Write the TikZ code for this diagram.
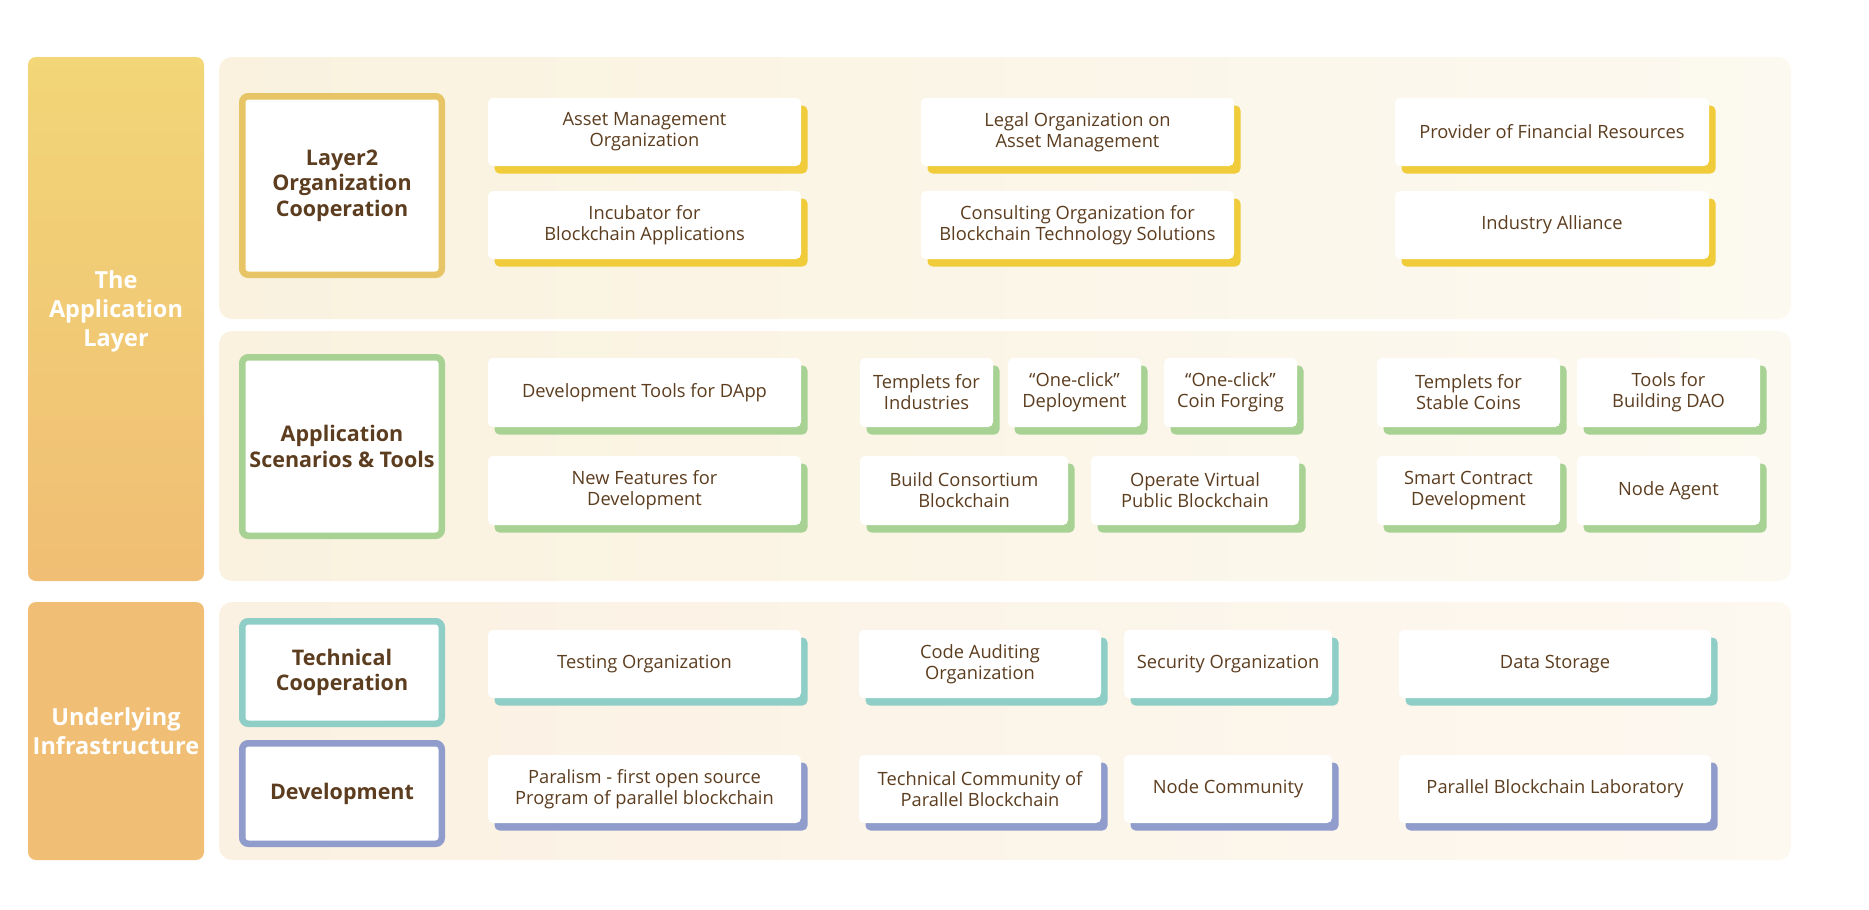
\documentclass[tikz,border=0pt]{standalone}
\usepackage{fontspec}
\setmainfont{Open Sans}
\usetikzlibrary{shadows}

\definecolor{txtbrown}{HTML}{5C3D1F}
\definecolor{goldline}{HTML}{E7C466}
\definecolor{yellowshade}{HTML}{F0CB3A}
\definecolor{greenshade}{HTML}{A8D294}
\definecolor{tealshade}{HTML}{8FCEC6}
\definecolor{blueshade}{HTML}{909CCB}
\definecolor{layertop}{HTML}{F2D677}
\definecolor{layerbot}{HTML}{F0BE74}
\definecolor{panelleft}{HTML}{FAF2DF}
\definecolor{panelright}{HTML}{FCF9F0}
\definecolor{baseleft}{HTML}{FBF1E2}
\definecolor{baseright}{HTML}{FDF8F0}

\begin{document}
\begin{tikzpicture}[x=1pt,y=-1pt,
  card/.style={rectangle, rounded corners=5pt, fill=white, text=txtbrown, align=center,
    inner sep=0pt, minimum height=68pt, font=\fontsize{18.3}{21}\selectfont,
    general shadow={fill=#1, shadow xshift=6.5pt, shadow yshift=-7.5pt}},
  catbox/.style={rectangle, rounded corners=6pt, draw=#1, line width=6.5pt, fill=white,
    text=txtbrown, align=center, minimum width=199.5pt, font=\fontsize{21.5}{25.5}\selectfont\bfseries},
  layerbox/.style={rectangle, rounded corners=8pt, minimum width=176pt, inner sep=0pt,
    text=white, align=center, font=\fontsize{23.5}{29}\selectfont\bfseries},
  panel/.style={rectangle, rounded corners=13pt, minimum width=1572pt, inner sep=0pt}]

\useasboundingbox (0,0) rectangle (1869,910);

% layers on the left
\node[layerbox, minimum height=524pt, top color=layertop, bottom color=layerbot] (applayer) at (116,319) {};
\node[text=white, align=center, font=\fontsize{23.5}{29}\selectfont\bfseries] (applabel) at (116,311) {The\\Application\\Layer};
\node[layerbox, minimum height=258pt, fill=layerbot] (infra) at (116,731) {Underlying\\Infrastructure};

% panels
\node[panel, minimum height=262pt, left color=panelleft, right color=panelright] (p1) at (1005,188) {};
\node[panel, minimum height=250pt, left color=panelleft, right color=panelright] (p2) at (1005,456) {};
\node[panel, minimum height=258pt, left color=baseleft, right color=baseright] (p3) at (1005,731) {};

% categories
\node[catbox=goldline, minimum height=178.5pt] (layer2) at (342,185.5) {Layer2\\Organization\\Cooperation};
\node[catbox=greenshade, minimum height=178.5pt] (scen) at (342,446.5) {Application\\Scenarios \& Tools};
\node[catbox=tealshade, minimum height=102.5pt] (techco) at (342,672.5) {Technical\\Cooperation};
\node[catbox=blueshade, minimum height=100.5pt] (devel) at (342,793.5) {Development};

% organization cooperation
\node[card=yellowshade, minimum width=313pt] (asset) at (644.5,132) {Asset Management\\Organization};
\node[card=yellowshade, minimum width=313pt] (incub) at (644.5,225) {Incubator for\\Blockchain Applications};
\node[card=yellowshade, minimum width=313pt] (legal) at (1077.5,132) {Legal Organization on\\Asset Management};
\node[card=yellowshade, minimum width=313pt] (consult) at (1077.5,225) {Consulting Organization for\\Blockchain Technology Solutions};
\node[card=yellowshade, minimum width=314pt] (finance) at (1552,132) {Provider of Financial Resources};
\node[card=yellowshade, minimum width=314pt] (alliance) at (1552,225) {Industry Alliance};

% scenarios and tools
\node[card=greenshade, minimum width=313pt, minimum height=69pt] (dapp) at (644.5,392.5) {Development Tools for DApp};
\node[card=greenshade, minimum width=313pt, minimum height=69pt] (newfeat) at (644.5,490.5) {New Features for\\Development};
\node[card=greenshade, minimum width=133pt, minimum height=69pt] (tplind) at (926.5,392.5) {Templets for\\Industries};
\node[card=greenshade, minimum width=133pt, minimum height=69pt] (deploy) at (1074.5,392.5) {“One-click”\\Deployment};
\node[card=greenshade, minimum width=133pt, minimum height=69pt] (forging) at (1230.5,392.5) {“One-click”\\Coin Forging};
\node[card=greenshade, minimum width=208pt, minimum height=69pt] (consort) at (964,490.5) {Build Consortium\\Blockchain};
\node[card=greenshade, minimum width=208pt, minimum height=69pt] (virtual) at (1195,490.5) {Operate Virtual\\Public Blockchain};
\node[card=greenshade, minimum width=183pt, minimum height=69pt] (tplstab) at (1468.5,392.5) {Templets for\\Stable Coins};
\node[card=greenshade, minimum width=183pt, minimum height=69pt] (dao) at (1668.5,392.5) {Tools for\\Building DAO};
\node[card=greenshade, minimum width=183pt, minimum height=69pt] (smart) at (1468.5,490.5) {Smart Contract\\Development};
\node[card=greenshade, minimum width=183pt, minimum height=69pt] (agent) at (1668.5,490.5) {Node Agent};

% technical cooperation
\node[card=tealshade, minimum width=313pt] (testing) at (644.5,664) {Testing Organization};
\node[card=tealshade, minimum width=242pt] (audit) at (980,664) {Code Auditing\\Organization};
\node[card=tealshade, minimum width=208pt] (security) at (1228,664) {Security Organization};
\node[card=tealshade, minimum width=312pt] (storage) at (1555,664) {Data Storage};

% development
\node[card=blueshade, minimum width=313pt] (paralism) at (644.5,789) {Paralism - first open source\\Program of parallel blockchain};
\node[card=blueshade, minimum width=242pt] (techcom) at (980,789) {Technical Community of\\Parallel Blockchain};
\node[card=blueshade, minimum width=208pt] (nodecom) at (1228,789) {Node Community};
\node[card=blueshade, minimum width=312pt] (lab) at (1555,789) {Parallel Blockchain Laboratory};

\end{tikzpicture}
\end{document}
